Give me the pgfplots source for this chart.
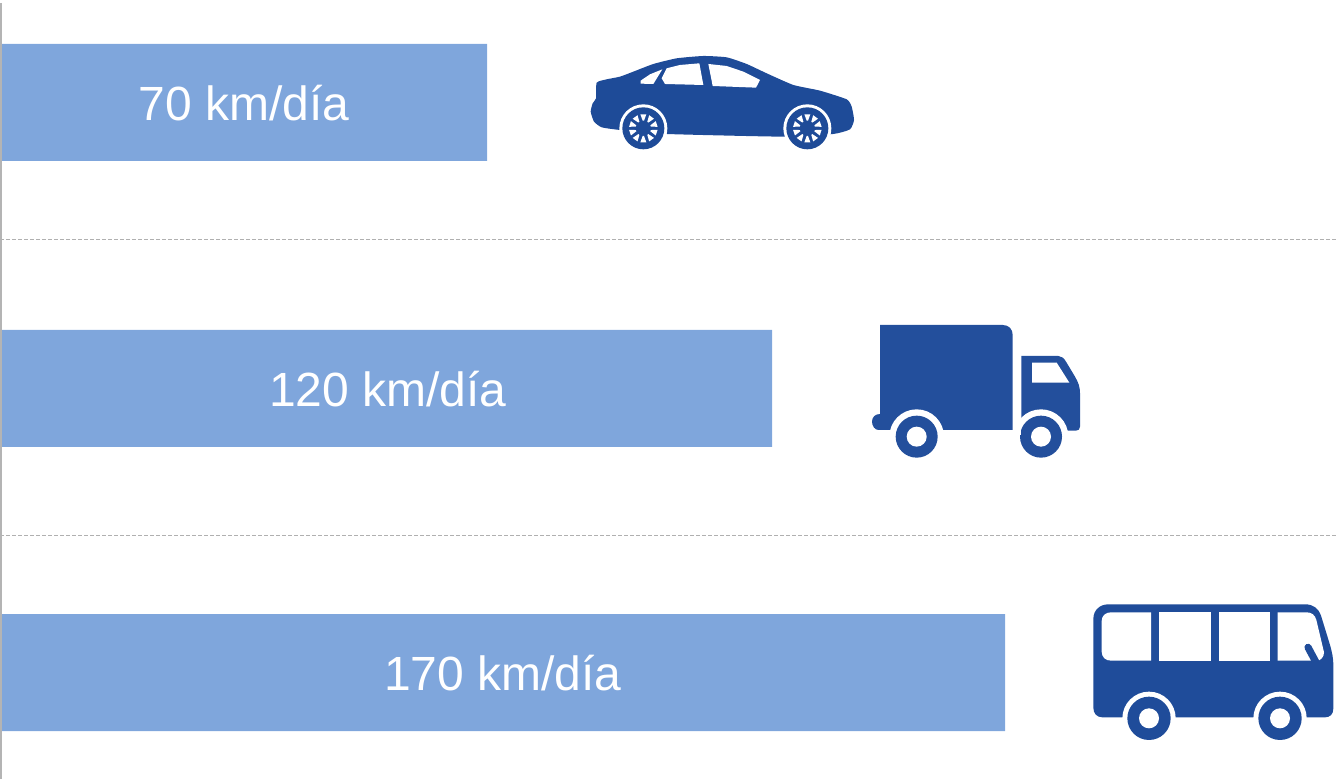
\documentclass[border=0pt]{standalone}
\usepackage{pgfplots}
\pgfplotsset{compat=1.18}
\usepackage{fontspec}
\setmainfont{Liberation Sans}
\definecolor{barc}{HTML}{7FA6DC}
\definecolor{carc}{HTML}{1E4B98}
\definecolor{truckc}{HTML}{234F9C}
\definecolor{busc}{HTML}{1F4C9A}
\definecolor{axisc}{HTML}{B4B4B4}
\definecolor{dashc}{HTML}{B0B0B0}
\begin{document}
\begin{tikzpicture}
\path[use as bounding box] (0,0) rectangle (668.5pt,389.5pt);
\begin{axis}[
  scale only axis, width=668.5pt, height=389.5pt,
  xmin=0, xmax=1337, ymin=0, ymax=779, y dir=reverse,
  axis lines=none, clip=true,
  xbar, bar shift=0pt, bar width=58.5pt,
]
\addplot[fill=barc, draw=none] coordinates {(487,102.5) (772,388.5) (1005,672.5)};
\draw[dashc, line width=0.5pt, dash pattern=on 2pt off 1pt] (axis cs:0,240) -- (axis cs:1337,240);
\draw[dashc, line width=0.5pt, dash pattern=on 2pt off 1pt] (axis cs:0,535.5) -- (axis cs:1337,535.5);
\draw[axisc, line width=1pt] (axis cs:1,3) -- (axis cs:1,779);
\node[white, font=\fontsize{24}{28}\selectfont] at (axis cs:244,103) {70 km/día};
\node[white, font=\fontsize{24}{28}\selectfont] at (axis cs:388,389) {120 km/día};
\node[white, font=\fontsize{24}{28}\selectfont] at (axis cs:503,673) {170 km/día};
\end{axis}
% car
\begin{scope}[shift={(285pt,369.5pt)}, x=0.16667pt, y=-0.16667pt]
\fill[carc] plot[smooth cycle, tension=0.3] coordinates {
 (80,128) (110,118) (150,110) (190,95) (250,72) (320,55) (400,48) (470,52) (530,72)
 (590,100) (670,135) (750,152) (830,178) (845,200) (852,240) (840,268) (790,282)
 (640,290) (290,282) (150,270) (95,262) (72,245) (62,215) (68,190) (78,175)};
\fill[white] (212,122) -- (240,103) -- (277,88) -- (250,132) -- (212,131) -- cycle;
\fill[white] (290,85) -- (330,75) -- (388,70) -- (400,135) -- (285,132) -- (275,115) -- cycle;
\fill[white] (415,72) -- (470,78) -- (520,95) -- (570,120) -- (558,143) -- (428,138) -- cycle;
\foreach \c in {220,712}{
 \begin{scope}[shift={(\c,265)}]
 \fill[white] (0,0) circle[radius=72];
 \fill[carc] (0,0) circle[radius=63];
 \foreach \a in {18,54,...,342}{
  \fill[white] (\a-5:23) -- (\a-12:43) -- (\a+12:43) -- (\a+5:23) -- cycle;
 }
 \end{scope}
}
\end{scope}
% truck
\begin{scope}[shift={(430pt,232pt)}, x=0.16667pt, y=-0.16667pt]
\fill[truckc] (60,30) -- (428,30) .. controls (446,30) and (458,42) .. (458,60) -- (458,345) -- (55,345)
  .. controls (44,345) and (36,332) .. (36,320) .. controls (36,308) and (44,297) .. (60,297) -- cycle;
\fill[truckc] (484,123) -- (595,123) .. controls (605,123) and (612,130) .. (618,140) -- (645,185)
  .. controls (655,203) and (660,215) .. (660,235) -- (660,335) .. controls (660,343) and (655,347) .. (648,347) -- (540,347) -- (484,347) -- cycle;
\fill[white] (516,143) -- (590,143) -- (628,203) -- (516,203) -- cycle;
\foreach \c in {170,543}{
 \fill[white] (\c,365) circle[radius=82];
 \fill[truckc] (\c,365) circle[radius=63];
 \fill[white] (\c,365) circle[radius=30];
}
\fill[white] (462,306) rectangle (484,360);
\end{scope}
% bus
\begin{scope}[shift={(542.5pt,92pt)}, x=0.16667pt, y=-0.16667pt]
\fill[busc] (25,72) .. controls (25,45) and (45,28) .. (70,28) -- (660,28) .. controls (685,28) and (700,40) .. (708,62)
  -- (735,150) .. controls (742,175) and (745,190) .. (745,215) -- (745,340) .. controls (745,358) and (735,367) .. (720,367)
  -- (52,367) .. controls (35,367) and (25,355) .. (25,338) -- cycle;
\fill[white] (50,78) .. controls (50,62) and (62,52) .. (78,52) -- (198,52) -- (198,197) -- (78,197) .. controls (62,197) and (50,187) .. (50,170) -- cycle;
\fill[white] (223,52) rectangle (377,197);
\fill[white] (401,52) rectangle (554,197);
\fill[white] (578,52) -- (665,52) .. controls (680,52) and (690,60) .. (694,75) -- (717,172) .. controls (717,185) and (708,197) .. (695,197) -- (578,197) -- cycle;
\draw[busc, line width=3.6pt, line cap=round] (669,157) -- (692,200);
\foreach \c in {192,585}{
 \fill[white] (\c,370) circle[radius=80];
 \fill[busc] (\c,370) circle[radius=65];
 \fill[white] (\c,370) circle[radius=30];
}
\end{scope}
\end{tikzpicture}
\end{document}
